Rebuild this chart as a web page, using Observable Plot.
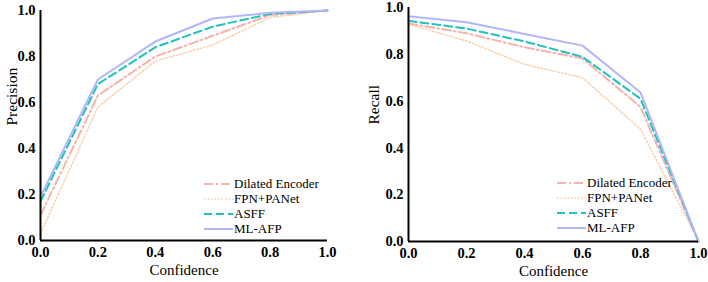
<!DOCTYPE html>
<html>
<head>
<meta charset="utf-8">
<script src="https://cdn.jsdelivr.net/npm/d3@7"></script>
<script src="https://cdn.jsdelivr.net/npm/@observablehq/plot@0.6"></script>
<style>
  html, body { margin: 0; padding: 0; background: #fff; }
  #wrap { display: flex; width: 708px; height: 282px; }
  .panel { position: relative; width: 354px; height: 282px; }
  .legend { position: absolute; font-family: "Liberation Serif", "Times New Roman", serif; font-size: 13px; color: #000; line-height: 15px; }
  .legend .row { display: flex; align-items: center; height: 15px; white-space: nowrap; }
  .legend svg { margin-right: 1px; }
</style>
</head>
<body>
<div id="wrap"></div>
<script>
const confidence = [0, 0.2, 0.4, 0.6, 0.8, 1.0];
const seriesNames = ["Dilated Encoder", "FPN+PANet", "ASFF", "ML-AFP"];
const precisionDilated = [0.11, 0.63, 0.80, 0.89, 0.98, 1.0];
const precisionFPN     = [0.03, 0.58, 0.78, 0.85, 0.97, 1.0];
const precisionASFF    = [0.17, 0.68, 0.84, 0.93, 0.985, 1.0];
const precisionMLAFP   = [0.19, 0.70, 0.865, 0.965, 0.99, 1.0];
const recallDilated = [0.932, 0.89, 0.83, 0.782, 0.575, 0.0];
const recallFPN     = [0.928, 0.857, 0.757, 0.70, 0.48, 0.0];
const recallASFF    = [0.943, 0.91, 0.855, 0.789, 0.61, 0.0];
const recallMLAFP   = [0.963, 0.937, 0.887, 0.837, 0.637, 0.0];
const tickValues = [0, 0.2, 0.4, 0.6, 0.8, 1.0];

const styles = {
  "Dilated Encoder": {stroke: "#f5b3ab", strokeWidth: 2, dash: "9,3,2,3"},
  "FPN+PANet": {stroke: "#fbcca6", strokeWidth: 1.4, dash: "1.5,2"},
  "ASFF": {stroke: "#1ec3bc", strokeWidth: 2, dash: "8,4"},
  "ML-AFP": {stroke: "#b2b5f6", strokeWidth: 2, dash: null}
};

function rows(values) {
  return seriesNames.flatMap((name, k) =>
    confidence.map((c, i) => ({series: name, x: c, y: values[k][i]})));
}

function makePanel(label, values, m, legendPos, labelX) {
  const data = rows(values);
  const order = ["FPN+PANet", "Dilated Encoder", "ASFF", "ML-AFP"];
  const lines = order.map(name => {
    const s = styles[name];
    return Plot.line(data.filter(d => d.series === name), {
      x: "x", y: "y", stroke: s.stroke, strokeWidth: s.strokeWidth,
      strokeDasharray: s.dash ?? undefined, strokeLinejoin: "round"
    });
  });
  const chart = Plot.plot({
    width: 354, height: 282,
    marginLeft: m.left, marginRight: m.right, marginTop: m.top, marginBottom: m.bottom,
    style: {fontFamily: "'Liberation Serif', 'Times New Roman', serif", fontSize: "14px", color: "#000", background: "#fff", overflow: "visible"},
    x: {domain: [0, 1]},
    y: {domain: [0, 1]},
    marks: [
      ...lines,
      Plot.axisX({ticks: tickValues, tickSize: 0, tickPadding: 6, tickFormat: d3.format(".1f"), fontWeight: "bold", fontSize: 14.5, label: null}),
      Plot.axisY({ticks: tickValues, tickSize: 0, tickPadding: 5, tickFormat: d3.format(".1f"), fontWeight: "bold", fontSize: 14.5, label: null}),
      Plot.ruleX([0], {stroke: "#000", strokeWidth: 2}),
      Plot.ruleY([0], {stroke: "#000", strokeWidth: 2}),
      Plot.text(["Confidence"], {frameAnchor: "bottom", dy: 34, fontSize: 15, fill: "#000"}),
      Plot.text([label], {frameAnchor: "left", dx: labelX, rotate: -90, fontSize: 15.5, fill: "#000"})
    ]
  });
  const panel = document.createElement("div");
  panel.className = "panel";
  panel.appendChild(chart);
  const legend = document.createElement("div");
  legend.className = "legend";
  legend.style.left = legendPos.left + "px";
  legend.style.top = legendPos.top + "px";
  seriesNames.forEach(name => {
    const s = styles[name];
    const row = document.createElement("div");
    row.className = "row";
    const svg = d3.create("svg").attr("width", 29).attr("height", 10);
    svg.append("line").attr("x1", 0).attr("x2", 29).attr("y1", 5).attr("y2", 5)
      .attr("stroke", s.stroke).attr("stroke-width", s.strokeWidth)
      .attr("stroke-dasharray", s.dash);
    row.appendChild(svg.node());
    const t = document.createElement("span");
    t.textContent = name;
    row.appendChild(t);
    legend.appendChild(row);
  });
  panel.appendChild(legend);
  document.getElementById("wrap").appendChild(panel);
}

makePanel("Precision", [precisionDilated, precisionFPN, precisionASFF, precisionMLAFP],
  {left: 40, right: 27, top: 10, bottom: 42}, {left: 204, top: 176}, -28);
makePanel("Recall", [recallDilated, recallFPN, recallASFF, recallMLAFP],
  {left: 54, right: 10, top: 7, bottom: 41}, {left: 203, top: 175}, -34);
</script>
</body>
</html>
